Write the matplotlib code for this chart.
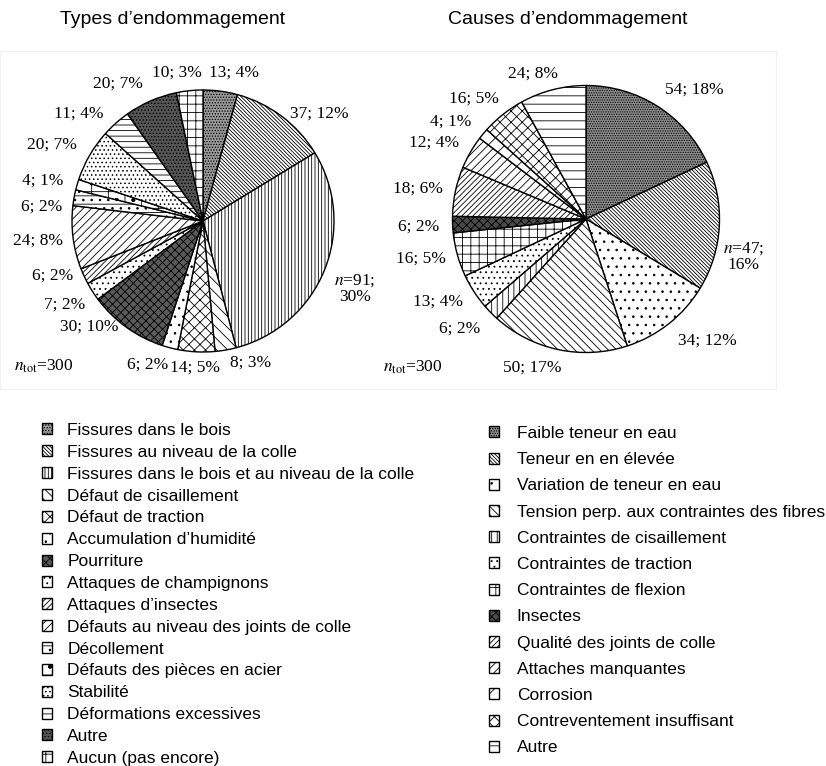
import matplotlib
matplotlib.use("Agg")
import matplotlib.pyplot as plt
from matplotlib.patches import Rectangle

plt.rcParams['hatch.linewidth'] = 0.6
plt.rcParams['mathtext.fontset'] = 'stix'

# --- data ---
type_names = [
    "Fissures dans le bois",
    "Fissures au niveau de la colle",
    "Fissures dans le bois et au niveau de la colle",
    "Défaut de cisaillement",
    "Défaut de traction",
    "Accumulation d’humidité",
    "Pourriture",
    "Attaques de champignons",
    "Attaques d’insectes",
    "Défauts au niveau des joints de colle",
    "Décollement",
    "Défauts des pièces en acier",
    "Stabilité",
    "Déformations excessives",
    "Autre",
    "Aucun (pas encore)",
]
type_counts = [13, 37, 91, 8, 14, 6, 30, 7, 6, 24, 6, 4, 20, 11, 20, 10]
type_pcts = [4, 12, 30, 3, 5, 2, 10, 2, 2, 8, 2, 1, 7, 4, 7, 3]

cause_names = [
    "Faible teneur en eau",
    "Teneur en en élevée",
    "Variation de teneur en eau",
    "Tension perp. aux contraintes des fibres",
    "Contraintes de cisaillement",
    "Contraintes de traction",
    "Contraintes de flexion",
    "Insectes",
    "Qualité des joints de colle",
    "Attaches manquantes",
    "Corrosion",
    "Contreventement insuffisant",
    "Autre",
]
cause_counts = [54, 47, 34, 50, 6, 13, 16, 6, 18, 12, 4, 16, 24]
cause_pcts = [18, 16, 12, 17, 2, 4, 5, 2, 6, 4, 1, 5, 8]

n_total = 300

# --- styles (face colour, hatch) ---
type_styles = [
    ('#9a9a9a', '......'), ('white', '\\' * 9), ('white', '|||||'),
    ('white', '\\\\\\'), ('white', 'xxx'), ('white', '..'),
    ('#5a5a5a', 'xxxx'), ('white', '...'), ('white', '//////'),
    ('white', '////'), ('white', '--..'), ('white', '+.'),
    ('white', '....'), ('white', '---'), ('#555555', '.....'),
    ('white', '++'),
]
cause_styles = [
    ('#8c8c8c', '.......'), ('white', '\\' * 9), ('white', '..'),
    ('white', '\\\\\\\\'), ('white', '|||'), ('white', '...'),
    ('white', '++'), ('#4a4a4a', 'xxxx'), ('white', '//////'),
    ('white', '////'), ('white', '//'), ('white', 'xxx'),
    ('white', '--'),
]

# label positions around each pie, in pie radii
type_label_pos = [
    (0.24, 1.13), (0.89, 0.82), (1.16, -0.52), (0.36, -1.08),
    (-0.06, -1.12), (-0.42, -1.10), (-0.87, -0.81), (-1.06, -0.64),
    (-1.15, -0.42), (-1.26, -0.15), (-1.23, 0.11), (-1.22, 0.31),
    (-1.15, 0.58), (-0.95, 0.82), (-0.65, 1.05), (-0.20, 1.13),
]
cause_label_pos = [
    (0.81, 0.97), (1.18, -0.28), (0.91, -0.91), (-0.40, -1.11),
    (-0.95, -0.82), (-1.11, -0.62), (-1.24, -0.30), (-1.25, -0.06),
    (-1.26, 0.23), (-1.14, 0.57), (-1.01, 0.73), (-0.84, 0.90),
    (-0.40, 1.09),
]

W, H = 826, 766
fig = plt.figure(figsize=(W / 100, H / 100), dpi=100)

# faint frame around the two pies
fig.add_artist(Rectangle((0, 1 - 389 / H), 776 / W, (389 - 51) / H,
                         transform=fig.transFigure, fill=False,
                         edgecolor='#f2f2f2', lw=0.8))


def draw_pie(cx, cy, r, counts, pcts, styles, label_pos, big_idx, ntot_x):
    lim = 1.6
    side = 2 * lim * r
    ax = fig.add_axes([(cx - side / 2) / W, 1 - (cy + side / 2) / H, side / W, side / H])
    wedges, _ = ax.pie(counts, startangle=90, counterclock=False,
                       wedgeprops=dict(edgecolor='black', linewidth=1.0))
    for w, (fc, hatch) in zip(wedges, styles):
        w.set_facecolor(fc)
        w.set_hatch(hatch)
    for i, (c, p) in enumerate(zip(counts, pcts)):
        x, y = label_pos[i]
        if i == big_idx:
            txt = "$n$=%d;\n%d%%" % (c, p)
        else:
            txt = f"{c}; {p}%"
        ax.text(x, y, txt, ha='center', va='center', family='Liberation Serif',
                fontsize=12.5, linespacing=1.0)
    ax.text(ntot_x, -1.11, r"$n_{\mathrm{tot}}$=%d" % n_total,
            ha='left', va='center', family='Liberation Serif', fontsize=12.5)
    ax.set_xlim(-lim, lim)
    ax.set_ylim(-lim, lim)
    ax.set_aspect('equal')
    ax.axis('off')
    return wedges


w_types = draw_pie(203, 221, 131, type_counts, type_pcts, type_styles,
                   type_label_pos, 2, -1.44)
w_causes = draw_pie(586, 219, 133.5, cause_counts, cause_pcts, cause_styles,
                    cause_label_pos, 1, -1.52)

fig.text(173 / W, 1 - 20 / H, "Types d’endommagement", ha='center', va='center',
         family='Liberation Sans', fontsize=14)
fig.text(568 / W, 1 - 20 / H, "Causes d’endommagement", ha='center', va='center',
         family='Liberation Sans', fontsize=14)

leg_font = {'family': 'Liberation Sans', 'size': 12.5}
fig.legend(w_types, type_names, loc='upper left', bbox_to_anchor=(42 / W, 1 - 423 / H),
           frameon=False, prop=leg_font, handlelength=0.6, handleheight=0.6,
           handletextpad=0.85, labelspacing=0.395, borderpad=0, borderaxespad=0)
fig.legend(w_causes, cause_names, loc='upper left', bbox_to_anchor=(489 / W, 1 - 426 / H),
           frameon=False, prop=leg_font, handlelength=0.6, handleheight=0.6,
           handletextpad=1.0, labelspacing=0.645, borderpad=0, borderaxespad=0)

fig.savefig("out.png", dpi=100)
